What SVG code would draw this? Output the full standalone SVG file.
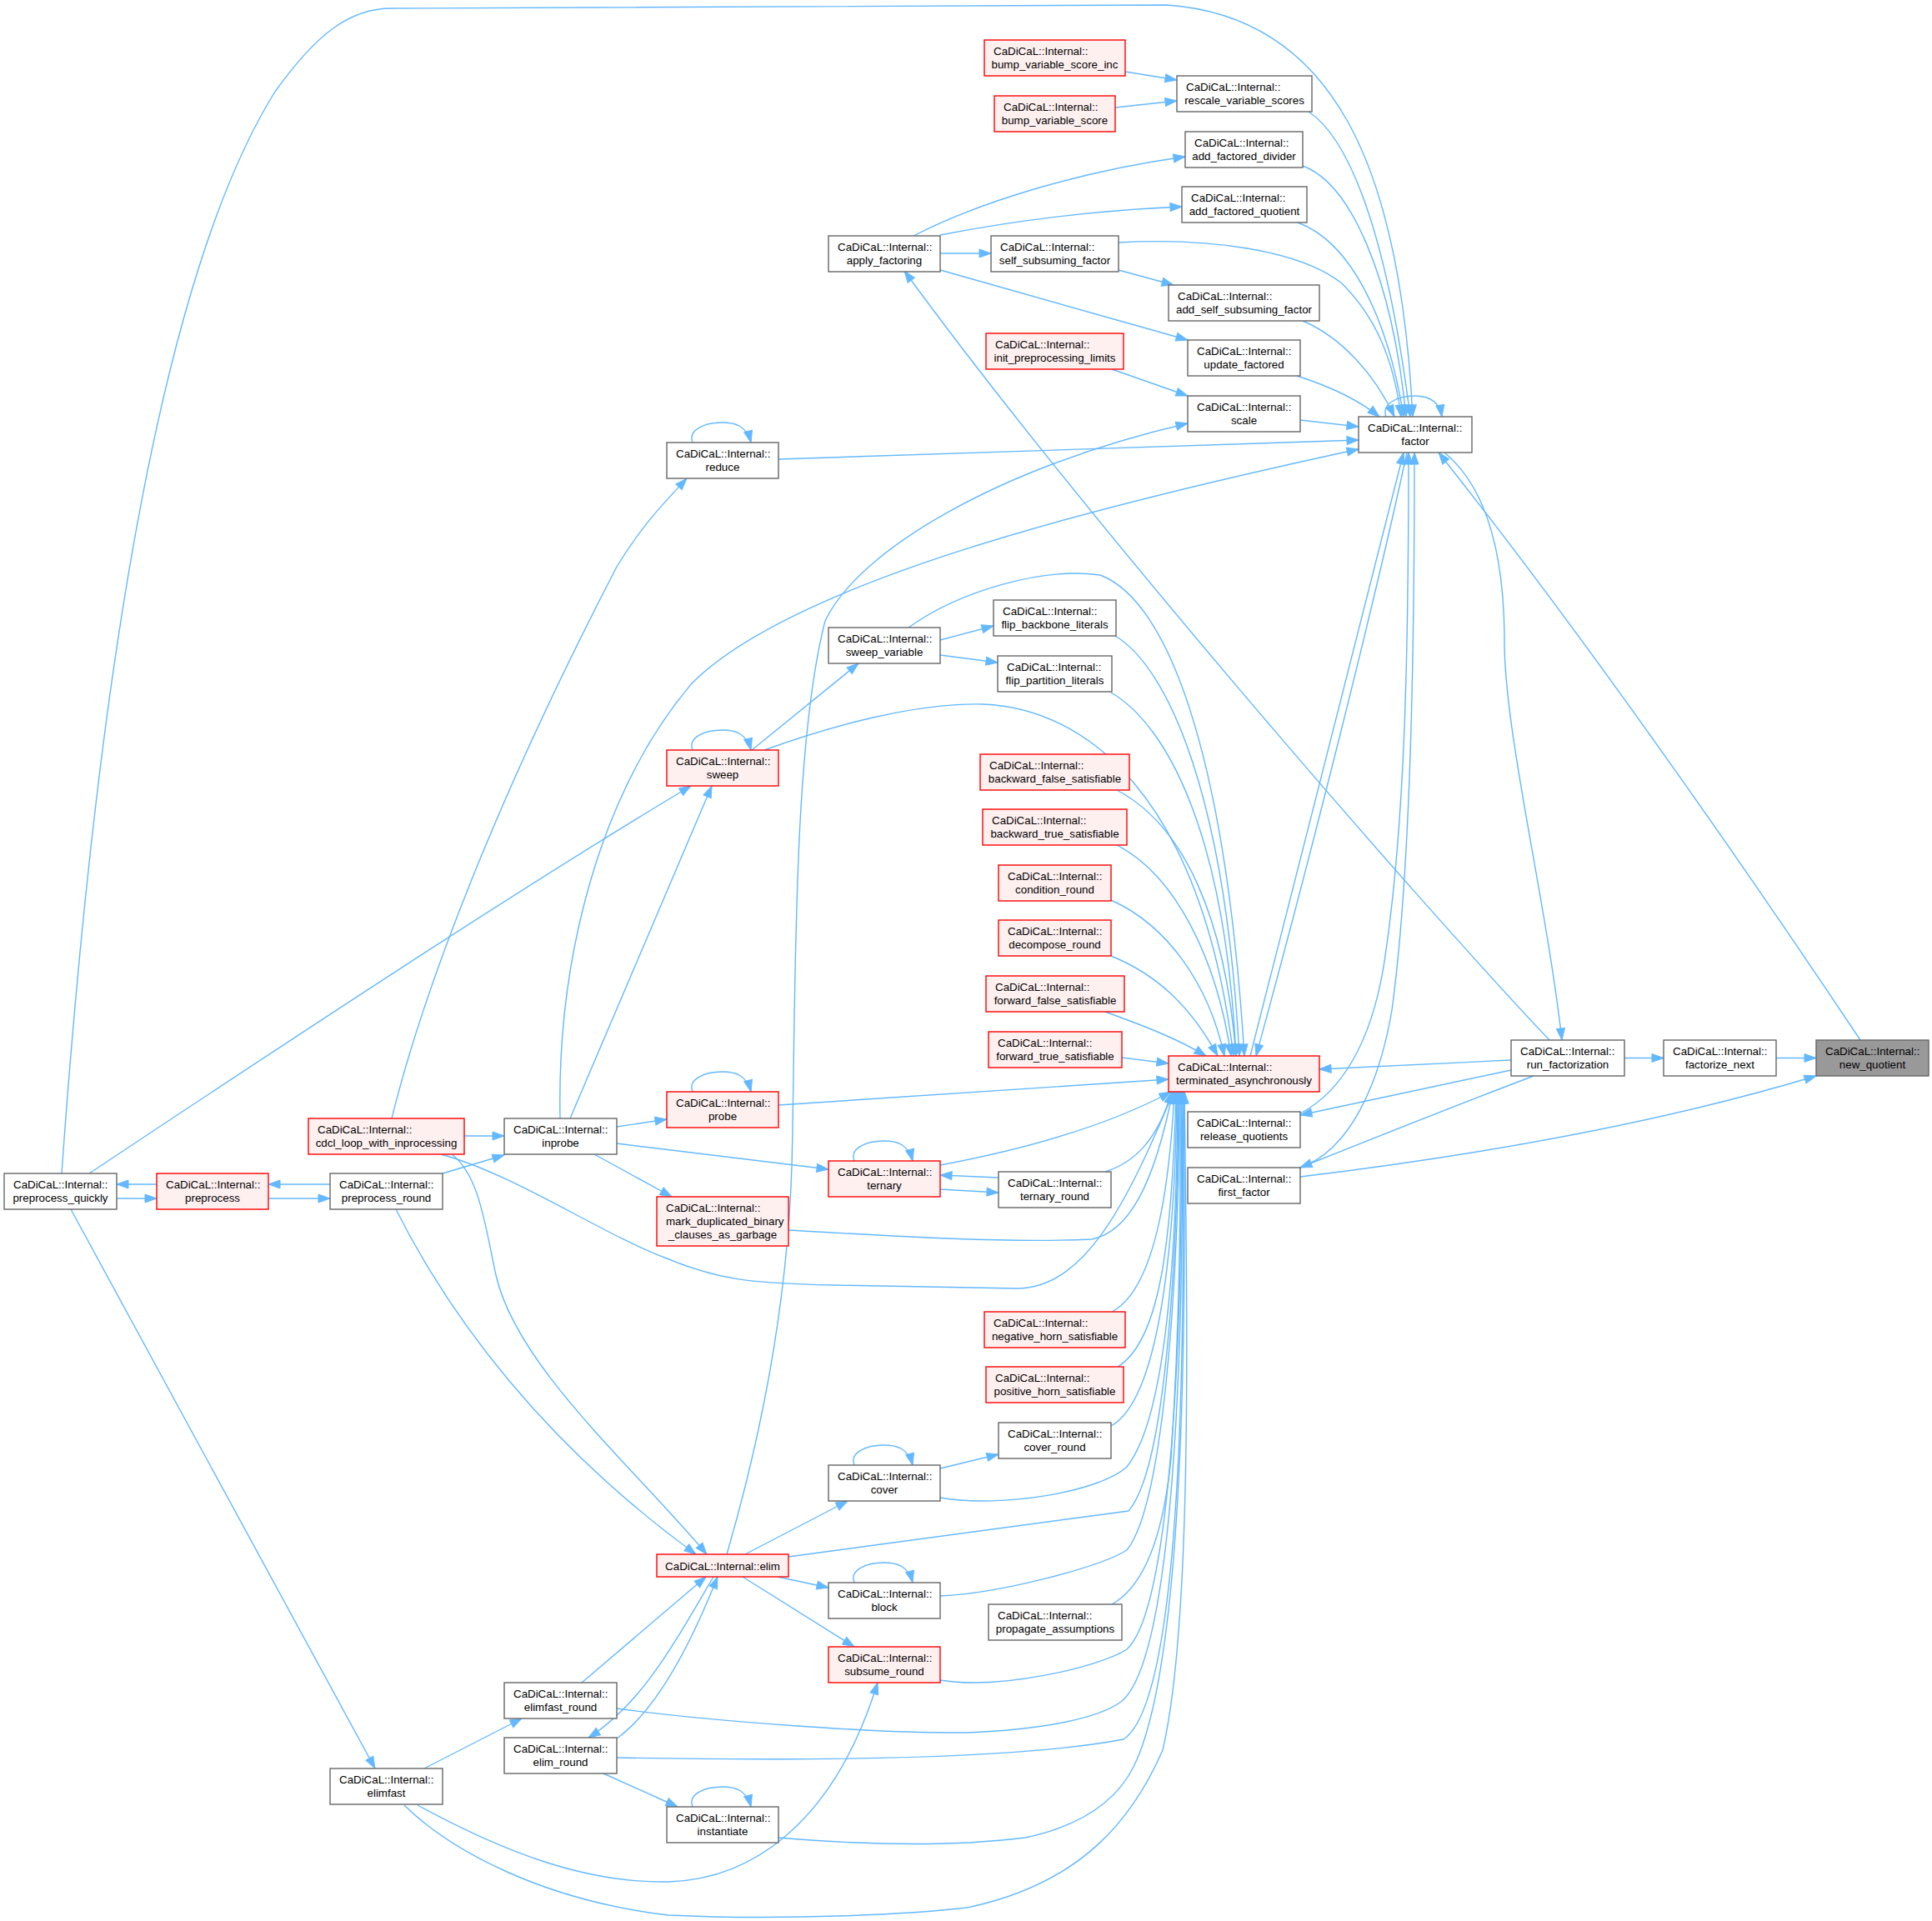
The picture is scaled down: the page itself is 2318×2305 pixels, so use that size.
<svg xmlns="http://www.w3.org/2000/svg" width="2318" height="2305" viewBox="0 0 2318 2305">
<style>
.node rect{fill:#ffffff;stroke:#666666;stroke-width:1.4}
.node.red rect{fill:#fff0f0;stroke:#ff0000}
.node.hl rect{fill:#999999;stroke:#666666}
text{font-family:"Liberation Sans",Arial,sans-serif;font-size:13.33px;fill:#000000}
.s{text-anchor:start}
.m{text-anchor:middle}
#edges path{fill:none;stroke:#63b8ff;stroke-width:1.4;marker-end:url(#ah)}
</style>
<defs>
<marker id="ah" viewBox="0 0 16 12" refX="15" refY="6" markerWidth="16" markerHeight="12" markerUnits="userSpaceOnUse" orient="auto"><path d="M1,1 L15,6 L1,11 z" fill="#63b8ff" stroke="#63b8ff" stroke-width="1"/></marker>
</defs>
<rect x="0" y="0" width="2318" height="2305" fill="#ffffff"/>
<g id="edges">
<path d="M2131,1269.5 L2179,1269.5"/>
<path d="M1949,1269.5 L1996,1269.5"/>
<path d="M2232,1248 C2140,1110 1930,800 1726,543"/>
<path d="M1733,543 C1790,590 1805,680 1805,770 C1805,880 1855,1080 1874,1248"/>
<path d="M1560,1412 C1700,1395 1950,1360 2179,1291"/>
<path d="M1813,1272 L1583,1283"/>
<path d="M1813,1284 L1560,1338"/>
<path d="M1840,1291 C1790,1310 1700,1345 1560,1401"/>
<path d="M1859,1248 C1700,1080 1300,620 1085,325"/>
<path d="M1560,1336 C1610,1310 1645,1250 1660,1160 C1685,1000 1690,800 1690,543"/>
<path d="M1560,1401 C1620,1380 1655,1300 1670,1212 C1692,1050 1697,800 1697,543"/>
<path d="M1500,1267 C1560,1030 1640,720 1684,543"/>
<path d="M1688,543 C1650,720 1572,1030 1507,1267"/>
<path d="M1570,134 C1610,160 1660,250 1692,500"/>
<path d="M74,1408 C110,900 180,350 330,110 C380,40 420,10 470,10 L1400,6 C1600,20 1680,200 1695,500"/>
<path d="M1563,199 C1620,220 1670,330 1687,500"/>
<path d="M1557,267 C1620,290 1665,380 1684,500"/>
<path d="M1342,291 C1450,285 1560,300 1610,340 C1650,380 1672,430 1681,500"/>
<path d="M1563,385 C1610,405 1650,450 1673,500"/>
<path d="M1556,451 C1600,465 1630,480 1655,500"/>
<path d="M1560,504 L1630,512"/>
<path d="M934,551 L1630,528"/>
<path d="M672,1342 C668,1150 720,950 830,820 C950,700 1300,610 1630,539"/>
<path d="M1663,500 C1657,484 1678,475 1697,475 C1714,475 1727,481 1730,500"/>
<path d="M872,1865 C920,1700 945,1550 950,1400 C955,1200 950,900 990,745 C1030,660 1200,560 1425,508"/>
<path d="M470,1342 C510,1180 600,950 740,680 C770,630 800,600 824,574"/>
<path d="M107,1408 C300,1280 600,1080 829,943"/>
<path d="M188,1421 L140,1421"/>
<path d="M140,1438 L188,1438"/>
<path d="M396,1421 L322,1421"/>
<path d="M322,1438 L396,1438"/>
<path d="M85,1451 L450,2122"/>
<path d="M557,1363 L605,1363"/>
<path d="M531,1408 L605,1386"/>
<path d="M542,1385 C575,1410 582,1470 595,1530 C620,1640 760,1760 848,1865"/>
<path d="M475,1451 C540,1580 650,1730 835,1865"/>
<path d="M529,1385 C620,1410 720,1480 800,1510 C860,1535 900,1540 1000,1542 L1220,1546 C1300,1545 1350,1450 1408,1310"/>
<path d="M1338,763 C1400,800 1470,950 1487,1267"/>
<path d="M1333,831 C1400,870 1470,1000 1483,1267"/>
<path d="M917,900 C1000,870 1100,843 1180,845 C1300,850 1440,950 1480,1267"/>
<path d="M1090,753 C1150,710 1250,680 1320,690 C1400,720 1470,900 1493,1267"/>
<path d="M1340,948 C1420,990 1470,1100 1483,1267"/>
<path d="M1340,1014 C1410,1050 1460,1150 1477,1267"/>
<path d="M1333,1080 C1400,1110 1450,1180 1469,1267"/>
<path d="M1333,1147 C1390,1170 1430,1210 1461,1267"/>
<path d="M1326,1214 C1370,1230 1410,1245 1447,1267"/>
<path d="M1346,1269 L1402,1276"/>
<path d="M934,1326 L1402,1295"/>
<path d="M1128,1398 C1250,1375 1340,1345 1405,1310"/>
<path d="M1198,1413 L1128,1410"/>
<path d="M1128,1427 L1198,1431"/>
<path d="M1326,1406 C1360,1395 1388,1370 1406,1310"/>
<path d="M946,1476 C1050,1482 1200,1492 1310,1487 C1355,1478 1385,1420 1407,1310"/>
<path d="M1334,1574 C1380,1550 1402,1450 1409,1310"/>
<path d="M1341,1640 C1390,1610 1406,1500 1411,1310"/>
<path d="M1333,1711 C1390,1680 1410,1500 1412,1310"/>
<path d="M1128,1797 C1200,1810 1320,1790 1352,1760 C1400,1700 1412,1500 1413,1310"/>
<path d="M946,1868 L1354,1813 C1400,1760 1413,1500 1414,1310"/>
<path d="M1128,1915 C1200,1912 1320,1880 1352,1860 C1400,1800 1415,1500 1415,1310"/>
<path d="M1334,1925 C1370,1905 1395,1850 1405,1750 C1418,1550 1416,1400 1416,1310"/>
<path d="M1128,2016 C1200,2028 1320,2000 1352,1979 C1405,1930 1420,1600 1417,1310"/>
<path d="M740,2050 C850,2065 1050,2080 1160,2079 C1260,2075 1320,2060 1345,2042 C1410,1990 1421,1600 1418,1310"/>
<path d="M740,2109 C900,2112 1200,2115 1348,2087 C1420,2040 1422,1600 1419,1310"/>
<path d="M934,2205 C1050,2215 1150,2215 1230,2205 C1300,2190 1340,2160 1360,2120 C1420,2000 1424,1600 1420,1310"/>
<path d="M485,2166 C540,2220 650,2280 802,2298 C950,2305 1100,2296 1160,2289 C1300,2260 1360,2180 1395,2100 C1430,1950 1425,1600 1421,1310"/>
<path d="M501,2166 C600,2220 700,2260 802,2258 C900,2255 1000,2190 1053,2019"/>
<path d="M509,2122 L626,2062"/>
<path d="M698,2019 L847,1892"/>
<path d="M856,1892 C810,1970 770,2045 706,2085"/>
<path d="M740,2086 C790,2050 830,1970 861,1892"/>
<path d="M894,1865 L1017,1801"/>
<path d="M933,1892 L994,1905"/>
<path d="M891,1892 L1025,1976"/>
<path d="M724,2128 L813,2168"/>
<path d="M1128,1762 L1198,1745"/>
<path d="M740,1352 L800,1343"/>
<path d="M740,1372 L994,1403"/>
<path d="M713,1385 L806,1436"/>
<path d="M684,1342 L854,943"/>
<path d="M902,900 L1030,796"/>
<path d="M1128,768 L1192,751"/>
<path d="M1128,786 L1197,795"/>
<path d="M1128,304 L1189,304"/>
<path d="M1096,283 C1180,240 1300,205 1422,188"/>
<path d="M1128,282 C1200,268 1300,253 1418,248"/>
<path d="M1128,324 L1425,408"/>
<path d="M1342,324 L1408,342"/>
<path d="M1334,443 L1425,475"/>
<path d="M1350,86 L1412,96"/>
<path d="M1338,129 L1412,121"/>
<path d="M831,531 C825,516 845,507 867,507 C882,507 896,511 901,531"/>
<path d="M831,900 C825,885 845,876 867,876 C882,876 896,880 901,900"/>
<path d="M831,1310 C825,1295 845,1286 867,1286 C882,1286 896,1290 901,1310"/>
<path d="M1025,1393 C1019,1378 1039,1369 1061,1369 C1076,1369 1090,1373 1095,1393"/>
<path d="M1025,1758 C1019,1743 1039,1734 1061,1734 C1076,1734 1090,1738 1095,1758"/>
<path d="M1025,1899 C1019,1884 1039,1875 1061,1875 C1076,1875 1090,1879 1095,1899"/>
<path d="M831,2168 C825,2153 845,2144 867,2144 C882,2144 896,2148 901,2168"/>
</g>
<g id="n_bvsi" class="node red"><rect x="1181" y="48" width="169" height="43"/><text class="s" x="1192" y="66">CaDiCaL::Internal::</text><text class="m" x="1265.5" y="82">bump_variable_score_inc</text></g>
<g id="n_bvs" class="node red"><rect x="1193" y="115" width="145" height="43"/><text class="s" x="1204" y="133">CaDiCaL::Internal::</text><text class="m" x="1265.5" y="149">bump_variable_score</text></g>
<g id="n_rvs" class="node"><rect x="1412" y="91" width="162" height="43"/><text class="s" x="1423" y="109">CaDiCaL::Internal::</text><text class="m" x="1493" y="125">rescale_variable_scores</text></g>
<g id="n_afd" class="node"><rect x="1422" y="158" width="141" height="43"/><text class="s" x="1433" y="176">CaDiCaL::Internal::</text><text class="m" x="1492.5" y="192">add_factored_divider</text></g>
<g id="n_afq" class="node"><rect x="1418" y="224" width="150" height="43"/><text class="s" x="1429" y="242">CaDiCaL::Internal::</text><text class="m" x="1493" y="258">add_factored_quotient</text></g>
<g id="n_ssf" class="node"><rect x="1189" y="283" width="153" height="43"/><text class="s" x="1200" y="301">CaDiCaL::Internal::</text><text class="m" x="1265.5" y="317">self_subsuming_factor</text></g>
<g id="n_assf" class="node"><rect x="1402" y="342" width="181" height="43"/><text class="s" x="1413" y="360">CaDiCaL::Internal::</text><text class="m" x="1492.5" y="376">add_self_subsuming_factor</text></g>
<g id="n_ipl" class="node red"><rect x="1183" y="400" width="165" height="43"/><text class="s" x="1194" y="418">CaDiCaL::Internal::</text><text class="m" x="1265.5" y="434">init_preprocessing_limits</text></g>
<g id="n_uf" class="node"><rect x="1425" y="408" width="135" height="43"/><text class="s" x="1436" y="426">CaDiCaL::Internal::</text><text class="m" x="1492.5" y="442">update_factored</text></g>
<g id="n_scale" class="node"><rect x="1425" y="475" width="135" height="43"/><text class="s" x="1436" y="493">CaDiCaL::Internal::</text><text class="m" x="1492.5" y="509">scale</text></g>
<g id="n_factor" class="node"><rect x="1630" y="500" width="136" height="43"/><text class="s" x="1641" y="518">CaDiCaL::Internal::</text><text class="m" x="1698" y="534">factor</text></g>
<g id="n_af" class="node"><rect x="994" y="283" width="134" height="43"/><text class="s" x="1005" y="301">CaDiCaL::Internal::</text><text class="m" x="1061" y="317">apply_factoring</text></g>
<g id="n_reduce" class="node"><rect x="800" y="531" width="134" height="43"/><text class="s" x="811" y="549">CaDiCaL::Internal::</text><text class="m" x="867" y="565">reduce</text></g>
<g id="n_fbl" class="node"><rect x="1192" y="720" width="147" height="43"/><text class="s" x="1203" y="738">CaDiCaL::Internal::</text><text class="m" x="1265.5" y="754">flip_backbone_literals</text></g>
<g id="n_fpl" class="node"><rect x="1197" y="787" width="137" height="43"/><text class="s" x="1208" y="805">CaDiCaL::Internal::</text><text class="m" x="1265.5" y="821">flip_partition_literals</text></g>
<g id="n_sv" class="node"><rect x="994" y="753" width="134" height="43"/><text class="s" x="1005" y="771">CaDiCaL::Internal::</text><text class="m" x="1061" y="787">sweep_variable</text></g>
<g id="n_sweep" class="node red"><rect x="800" y="900" width="134" height="43"/><text class="s" x="811" y="918">CaDiCaL::Internal::</text><text class="m" x="867" y="934">sweep</text></g>
<g id="n_bfs" class="node red"><rect x="1176" y="905" width="179" height="43"/><text class="s" x="1187" y="923">CaDiCaL::Internal::</text><text class="m" x="1265.5" y="939">backward_false_satisfiable</text></g>
<g id="n_bts" class="node red"><rect x="1179" y="971" width="173" height="43"/><text class="s" x="1190" y="989">CaDiCaL::Internal::</text><text class="m" x="1265.5" y="1005">backward_true_satisfiable</text></g>
<g id="n_cr" class="node red"><rect x="1198" y="1038" width="135" height="43"/><text class="s" x="1209" y="1056">CaDiCaL::Internal::</text><text class="m" x="1265.5" y="1072">condition_round</text></g>
<g id="n_dr" class="node red"><rect x="1198" y="1104" width="135" height="43"/><text class="s" x="1209" y="1122">CaDiCaL::Internal::</text><text class="m" x="1265.5" y="1138">decompose_round</text></g>
<g id="n_ffs" class="node red"><rect x="1183" y="1171" width="166" height="43"/><text class="s" x="1194" y="1189">CaDiCaL::Internal::</text><text class="m" x="1266" y="1205">forward_false_satisfiable</text></g>
<g id="n_fts" class="node red"><rect x="1186" y="1238" width="160" height="43"/><text class="s" x="1197" y="1256">CaDiCaL::Internal::</text><text class="m" x="1266" y="1272">forward_true_satisfiable</text></g>
<g id="n_ta" class="node red"><rect x="1402" y="1267" width="181" height="43"/><text class="s" x="1413" y="1285">CaDiCaL::Internal::</text><text class="m" x="1492.5" y="1301">terminated_asynchronously</text></g>
<g id="n_rq" class="node"><rect x="1425" y="1334" width="135" height="43"/><text class="s" x="1436" y="1352">CaDiCaL::Internal::</text><text class="m" x="1492.5" y="1368">release_quotients</text></g>
<g id="n_ff" class="node"><rect x="1425" y="1401" width="135" height="43"/><text class="s" x="1436" y="1419">CaDiCaL::Internal::</text><text class="m" x="1492.5" y="1435">first_factor</text></g>
<g id="n_tr" class="node"><rect x="1198" y="1406" width="135" height="43"/><text class="s" x="1209" y="1424">CaDiCaL::Internal::</text><text class="m" x="1265.5" y="1440">ternary_round</text></g>
<g id="n_rf" class="node"><rect x="1813" y="1248" width="136" height="43"/><text class="s" x="1824" y="1266">CaDiCaL::Internal::</text><text class="m" x="1881" y="1282">run_factorization</text></g>
<g id="n_fn" class="node"><rect x="1996" y="1248" width="135" height="43"/><text class="s" x="2007" y="1266">CaDiCaL::Internal::</text><text class="m" x="2063.5" y="1282">factorize_next</text></g>
<g id="n_nq" class="node hl"><rect x="2179" y="1248" width="135" height="43"/><text class="s" x="2190" y="1266">CaDiCaL::Internal::</text><text class="m" x="2246.5" y="1282">new_quotient</text></g>
<g id="n_probe" class="node red"><rect x="800" y="1310" width="134" height="43"/><text class="s" x="811" y="1328">CaDiCaL::Internal::</text><text class="m" x="867" y="1344">probe</text></g>
<g id="n_inprobe" class="node"><rect x="605" y="1342" width="135" height="43"/><text class="s" x="616" y="1360">CaDiCaL::Internal::</text><text class="m" x="672.5" y="1376">inprobe</text></g>
<g id="n_ternary" class="node red"><rect x="994" y="1393" width="134" height="43"/><text class="s" x="1005" y="1411">CaDiCaL::Internal::</text><text class="m" x="1061" y="1427">ternary</text></g>
<g id="n_mdb" class="node red"><rect x="788" y="1436" width="158" height="59"/><text class="s" x="799" y="1454">CaDiCaL::Internal::</text><text class="s" x="799" y="1470">mark_duplicated_binary</text><text class="m" x="867" y="1486">_clauses_as_garbage</text></g>
<g id="n_cdcl" class="node red"><rect x="370" y="1342" width="187" height="43"/><text class="s" x="381" y="1360">CaDiCaL::Internal::</text><text class="m" x="463.5" y="1376">cdcl_loop_with_inprocessing</text></g>
<g id="n_pq" class="node"><rect x="5" y="1408" width="135" height="43"/><text class="s" x="16" y="1426">CaDiCaL::Internal::</text><text class="m" x="72.5" y="1442">preprocess_quickly</text></g>
<g id="n_pp" class="node red"><rect x="188" y="1408" width="134" height="43"/><text class="s" x="199" y="1426">CaDiCaL::Internal::</text><text class="m" x="255" y="1442">preprocess</text></g>
<g id="n_pr" class="node"><rect x="396" y="1408" width="135" height="43"/><text class="s" x="407" y="1426">CaDiCaL::Internal::</text><text class="m" x="463.5" y="1442">preprocess_round</text></g>
<g id="n_nhs" class="node red"><rect x="1181" y="1574" width="169" height="43"/><text class="s" x="1192" y="1592">CaDiCaL::Internal::</text><text class="m" x="1265.5" y="1608">negative_horn_satisfiable</text></g>
<g id="n_phs" class="node red"><rect x="1183" y="1640" width="165" height="43"/><text class="s" x="1194" y="1658">CaDiCaL::Internal::</text><text class="m" x="1265.5" y="1674">positive_horn_satisfiable</text></g>
<g id="n_cvr" class="node"><rect x="1198" y="1707" width="135" height="43"/><text class="s" x="1209" y="1725">CaDiCaL::Internal::</text><text class="m" x="1265.5" y="1741">cover_round</text></g>
<g id="n_cover" class="node"><rect x="994" y="1758" width="134" height="43"/><text class="s" x="1005" y="1776">CaDiCaL::Internal::</text><text class="m" x="1061" y="1792">cover</text></g>
<g id="n_elim" class="node red"><rect x="788" y="1865" width="158" height="27"/><text class="m" x="867" y="1884">CaDiCaL::Internal::elim</text></g>
<g id="n_block" class="node"><rect x="994" y="1899" width="134" height="43"/><text class="s" x="1005" y="1917">CaDiCaL::Internal::</text><text class="m" x="1061" y="1933">block</text></g>
<g id="n_pa" class="node"><rect x="1186" y="1925" width="160" height="43"/><text class="s" x="1197" y="1943">CaDiCaL::Internal::</text><text class="m" x="1266" y="1959">propagate_assumptions</text></g>
<g id="n_sr" class="node red"><rect x="994" y="1976" width="134" height="43"/><text class="s" x="1005" y="1994">CaDiCaL::Internal::</text><text class="m" x="1061" y="2010">subsume_round</text></g>
<g id="n_efr" class="node"><rect x="605" y="2019" width="135" height="43"/><text class="s" x="616" y="2037">CaDiCaL::Internal::</text><text class="m" x="672.5" y="2053">elimfast_round</text></g>
<g id="n_er" class="node"><rect x="605" y="2085" width="135" height="43"/><text class="s" x="616" y="2103">CaDiCaL::Internal::</text><text class="m" x="672.5" y="2119">elim_round</text></g>
<g id="n_inst" class="node"><rect x="800" y="2168" width="134" height="43"/><text class="s" x="811" y="2186">CaDiCaL::Internal::</text><text class="m" x="867" y="2202">instantiate</text></g>
<g id="n_ef" class="node"><rect x="396" y="2122" width="135" height="43"/><text class="s" x="407" y="2140">CaDiCaL::Internal::</text><text class="m" x="463.5" y="2156">elimfast</text></g>
</svg>
